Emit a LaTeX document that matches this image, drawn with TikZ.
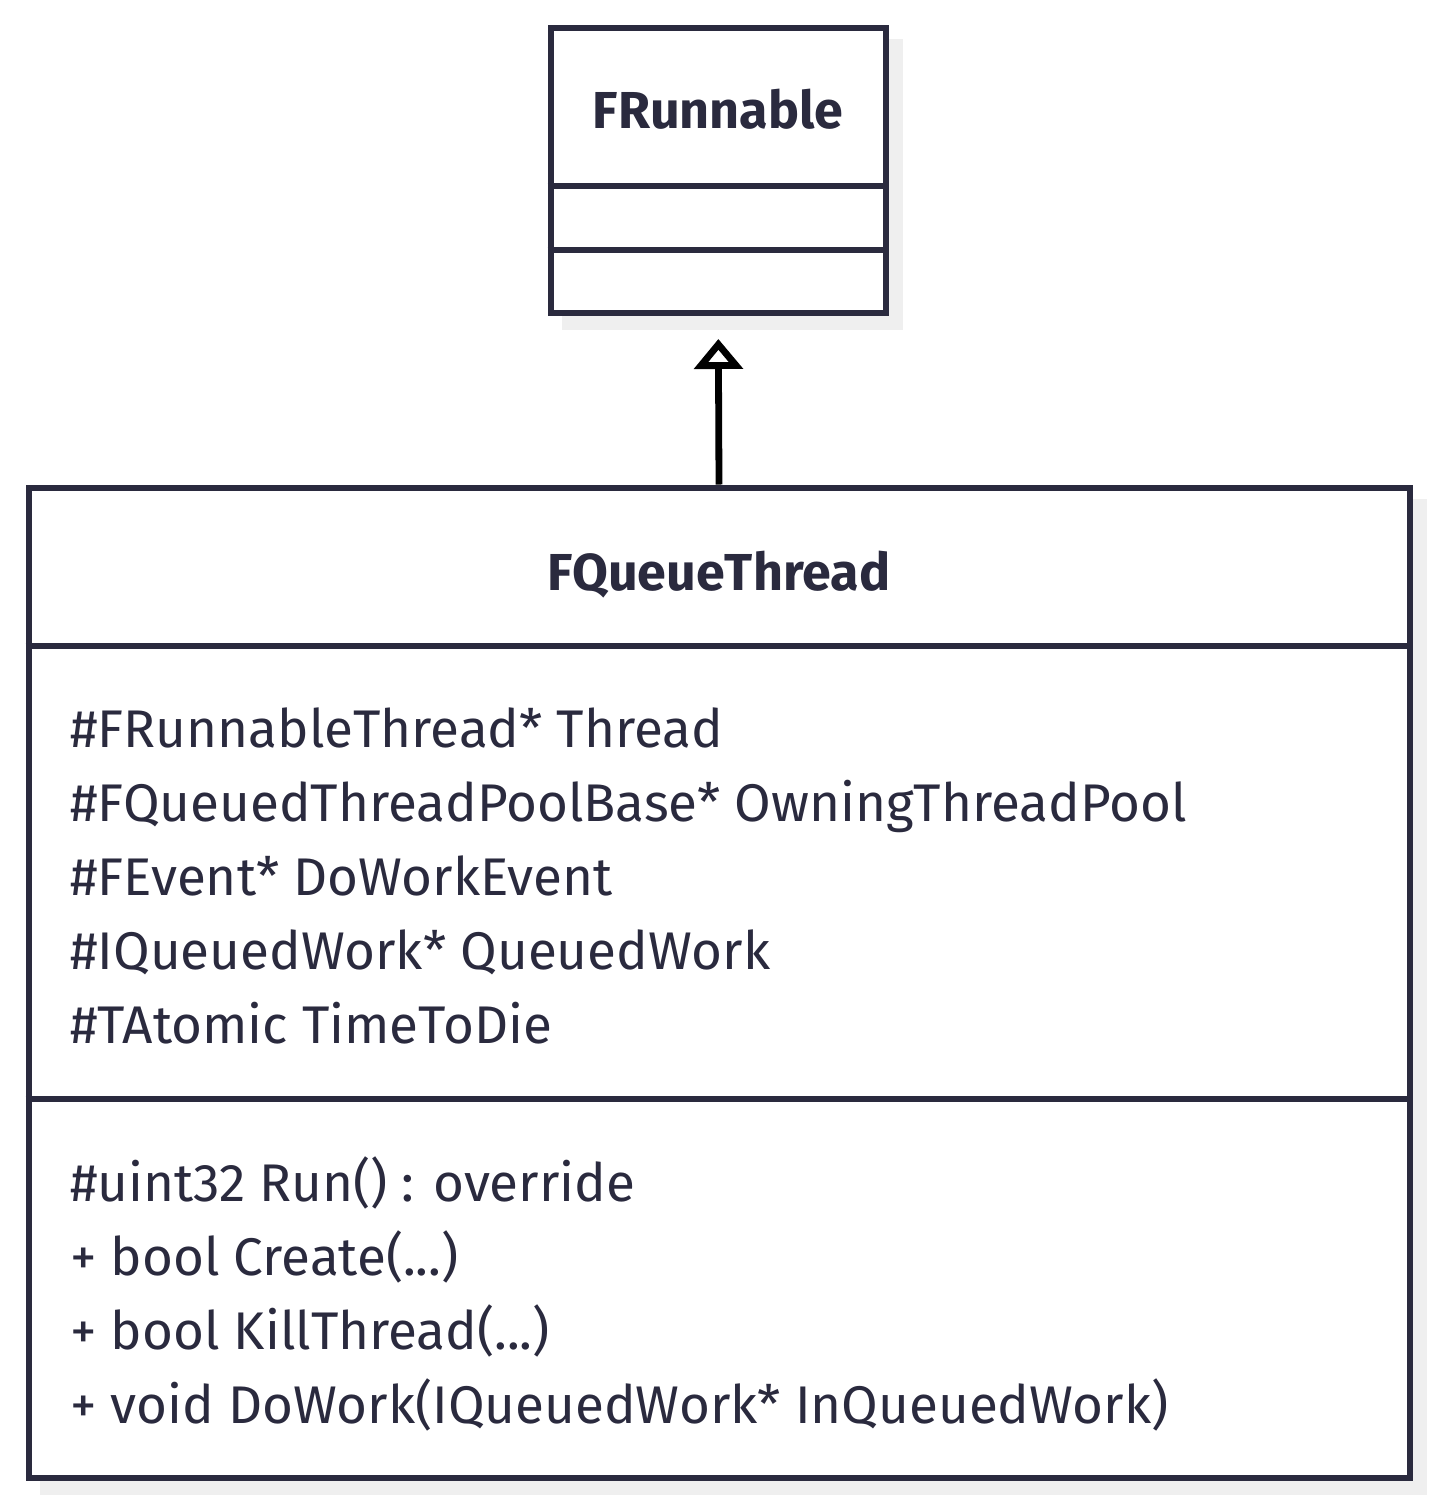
\documentclass[tikz,border=0pt]{standalone}
\usepackage{fontspec}
\setmainfont{Fira Sans}
\usetikzlibrary{arrows.meta,backgrounds}
\definecolor{umlink}{HTML}{2A2A3E}
\definecolor{umlshade}{HTML}{EFEFEF}
\tikzset{
  classbox/.style={draw=umlink, fill=white, line width=3pt, inner sep=0pt},
  divider/.style={draw=umlink, line width=3pt},
  classname/.style={anchor=base, text=umlink, inner sep=0pt, font=\fontsize{26}{30}\selectfont\bfseries},
  member/.style={anchor=base west, text=umlink, inner sep=0pt, font=\fontsize{26.5}{30}\selectfont},
  extends/.style={-{Triangle[open,length=15pt,width=24pt]}, line width=3.4pt, black},
}
\begin{document}
\begin{tikzpicture}[x=0.5pt, y=-0.5pt]
    \useasboundingbox (0,0) rectangle (1440,1510);

    % classes
    \node (runnable) [classbox, minimum width=167.75pt, minimum height=142.5pt] at (718.25,170) {};
    \node (thread) [classbox, minimum width=690.5pt, minimum height=495.25pt] at (719,982.75) {};

    % shadows
    \begin{scope}[on background layer]
        \fill[umlshade] ([shift={(14,14)}]runnable.north west) rectangle ([shift={(14,14)}]runnable.south east);
        \fill[umlshade] ([shift={(14,14)}]thread.north west) rectangle ([shift={(14,14)}]thread.south east);
    \end{scope}

    % compartments
    \draw[divider] (runnable.west |- 0,186) -- (runnable.east |- 0,186);
    \draw[divider] (runnable.west |- 0,249.5) -- (runnable.east |- 0,249.5);
    \draw[divider] (thread.west |- 0,646) -- (thread.east |- 0,646);
    \draw[divider] (thread.west |- 0,1099) -- (thread.east |- 0,1099);

    % names
    \node (runnablename) [classname] at (718,128) {FRunnable};
    \node (threadname) [classname] at (719,590) {FQueueThread};

    % attributes
    \node (attr1) [member] at (70,747) {\#FRunnableThread* Thread};
    \node (attr2) [member] at (70,821) {\#FQueuedThreadPoolBase* OwningThreadPool};
    \node (attr3) [member] at (70,895) {\#FEvent* DoWorkEvent};
    \node (attr4) [member] at (70,969) {\#IQueuedWork* QueuedWork};
    \node (attr5) [member] at (70,1043) {\#TAtomic TimeToDie};

    % operations
    \node (op1) [member] at (70,1201) {\#uint32 Run() : override};
    \node (op2) [member] at (70,1275) {+ bool Create(...)};
    \node (op3) [member] at (70,1349) {+ bool KillThread(...)};
    \node (op4) [member] at (70,1423) {+ void DoWork(IQueuedWork* InQueuedWork)};

    % edges
    \draw[extends, shorten >=11.75pt] (thread.north) -- (runnable.south);
\end{tikzpicture}
\end{document}
